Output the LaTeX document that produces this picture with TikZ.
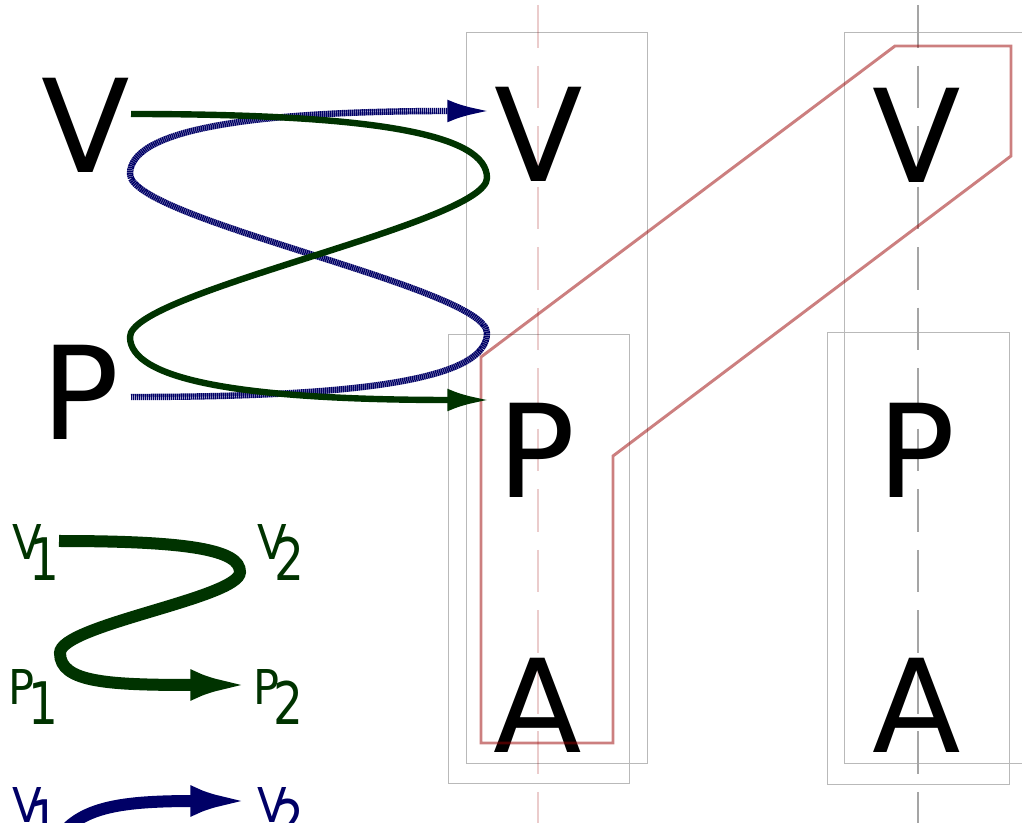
\documentclass[tikz,border=0pt]{standalone}
\usepackage{fontspec}
\usepackage{graphicx}
\setmainfont{DejaVu Sans}
\usetikzlibrary{arrows.meta}

\definecolor{vpgreen}{RGB}{0,51,0}
\definecolor{vpblue}{RGB}{0,0,102}
\definecolor{boxgray}{RGB}{185,185,185}
\definecolor{axisgray}{RGB}{165,165,165}
\definecolor{hlred}{RGB}{153,0,0}

% letter with a big, lowered index (both set a little narrow)
\newcommand\sublab[3][13pt]{%
  \rlap{\scalebox{0.9}[1]{\fontsize{36}{36}\selectfont #2}}\kern#1%
  \raisebox{-15.5pt}{\scalebox{0.8}[1]{\fontsize{44}{44}\selectfont #3}}}

\begin{document}
\begin{tikzpicture}[
  x=0.75pt, y=-0.75pt,
  big/.style     = {font=\fontsize{97}{97}\selectfont, inner sep=0pt, anchor=base},
  lab/.style     = {inner sep=0pt, anchor=base west},
  frame/.style   = {draw=boxgray, line width=0.6pt},
  axis/.style    = {line width=1pt, dash pattern=on 32pt off 13.4pt},
  hl/.style      = {draw=hlred, draw opacity=0.5, line width=2.2pt},
  fwd/.style     = {vpgreen, line width=4.8pt, -{Latex[length=32pt,width=17pt]}},
  bwd/.style     = {vpblue, line width=4.8pt, dash pattern=on 1.1pt off 0.4pt,
                    -{Latex[length=32pt,width=17pt]}},
  fwdkey/.style  = {vpgreen, line width=9pt, -{Latex[length=47pt,width=23pt]}},
  bwdkey/.style  = {vpblue, line width=9pt, -{Latex[length=47pt,width=23pt]}},
]
\useasboundingbox (0,0) rectangle (1022,823);
\clip (0,0) rectangle (1022,823);

% ----------------------------- frames and axes ----------------------------
\draw[frame] (466,32) rectangle (647,763);
\draw[frame] (448,334) rectangle (629,783);
\draw[frame] (844,32) rectangle (1025,763);
\draw[frame] (827,332) rectangle (1009,784);
\draw[axis, draw=hlred, draw opacity=0.2] (538,5) -- (538,830);
\draw[axis, draw=axisgray] (918,5) -- (918,830);

% ----------------------------- letters ------------------------------------
\node[big] (lV) at (86,173) {V};
\node[big] (lP) at (80.5,440) {P};

\node[big] (mV) at (538.5,182) {V};
\node[big] (mP) at (536.5,498) {P};
\node[big] (mA) at (538,752) {A};

\node[big] (rV) at (917,183) {V};
\node[big] (rP) at (916,498) {P};
\node[big] (rA) at (917,752) {A};

% ----------------------------- highlighted group --------------------------
\draw[hl] (481,357) -- (895,46) -- (1011,46) -- (1011,156) -- (613,456)
  -- (613,743) -- (481,743) -- cycle;

% ----------------------------- crossing curves ----------------------------
\coordinate (bS) at (131,397);
\coordinate (bE) at (490,111);
\coordinate (gS) at (131,114);
\coordinate (gE) at (490,400);
\draw[bwd] (bS) .. controls (380,397) and (487,376) .. (487,333)
  .. controls (487,288) and (130,219) .. (130,174)
  .. controls (130,132) and (238,111) .. (bE);
\draw[fwd] (gS) .. controls (380,114) and (487,135) .. (487,178)
  .. controls (487,223) and (130,292) .. (130,337)
  .. controls (130,379) and (238,400) .. (gE);

% ----------------------------- key ----------------------------------------
\node[lab, text=vpgreen] (kV1) at (12,560) {\sublab{V}{1}};
\node[lab, text=vpgreen] (kV2) at (257,560) {\sublab{V}{2}};
\node[lab, text=vpgreen] (kP1) at (8,704) {\sublab[15pt]{P}{1}};
\node[lab, text=vpgreen] (kP2) at (253,704) {\sublab[15pt]{P}{2}};
\coordinate (kgS) at (59,541);
\coordinate (kgE) at (253,685);
\draw[fwdkey] (kgS) .. controls (190,541) and (240,550) .. (240,572)
  .. controls (240,598) and (60,625) .. (60,653)
  .. controls (60,683) and (110,685) .. (kgE);

\node[lab, text=vpblue] (kbV1) at (12,822) {\sublab{V}{1}};
\node[lab, text=vpblue] (kbV2) at (257,822) {\sublab{V}{2}};
\coordinate (kbS) at (62,834);
\coordinate (kbE) at (253,801);
\draw[bwdkey] (kbS) .. controls (85,805) and (130,801) .. (kbE);

\end{tikzpicture}
\end{document}
